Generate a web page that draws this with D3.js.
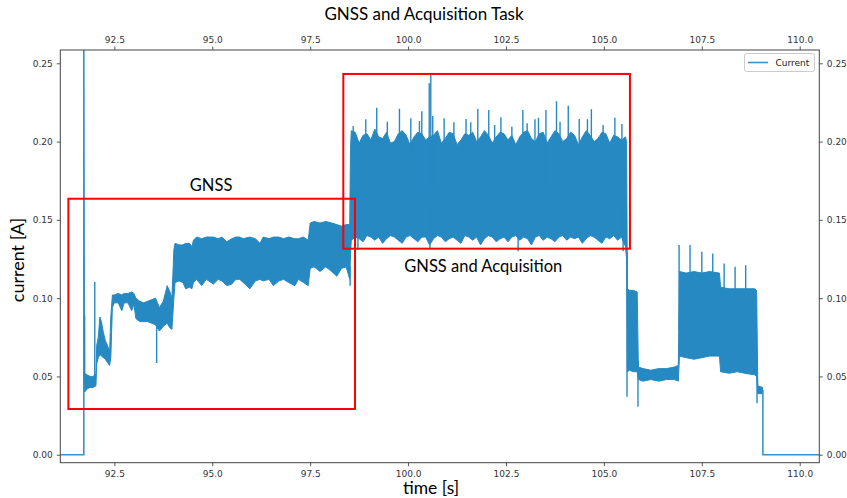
<!DOCTYPE html>
<html>
<head>
<meta charset="utf-8">
<script src="https://cdn.jsdelivr.net/npm/d3@7"></script>
<style>
  html, body { margin: 0; padding: 0; background: #fff; }
  svg { display: block; }
</style>
</head>
<body>
<svg id="chart" width="847" height="498"></svg>
<script>
// ---------------- DATA ----------------
const xTicks = [92.5, 95.0, 97.5, 100.0, 102.5, 105.0, 107.5, 110.0];
const yTicks = [0.00, 0.05, 0.10, 0.15, 0.20, 0.25];

// thin trace before the device powers up, and after it powers down
const leadTime    = [91.12, 91.72, 91.72, 91.735];
const leadCurrent = [0.000, 0.000, 0.270, 0.045];
const tailTime    = [109.05, 109.06, 109.06, 110.5];
const tailCurrent = [0.041, 0.041, 0.000, 0.000];

// start-up phase envelope (min / max of the dense signal)
const startTime = [91.74, 91.80, 91.88, 91.96, 92.03, 92.05, 92.09, 92.13, 92.17, 92.22, 92.27, 92.32, 92.38, 92.41, 92.45,
                   92.50, 92.60, 92.69, 92.75, 92.85, 92.94, 93.00, 93.05, 93.15, 93.25, 93.35, 93.45, 93.55, 93.65, 93.75, 93.85, 93.92, 93.97];
const startLow  = [0.040, 0.042, 0.043, 0.043, 0.044, 0.058, 0.062, 0.064, 0.063, 0.062, 0.061, 0.059, 0.057, 0.062, 0.094,
                   0.097, 0.097, 0.092, 0.097, 0.097, 0.092, 0.096, 0.087, 0.085, 0.085, 0.085, 0.084, 0.083, 0.079, 0.082, 0.084, 0.081, 0.080];
const startHigh = [0.052, 0.051, 0.050, 0.050, 0.052, 0.070, 0.075, 0.088, 0.085, 0.078, 0.073, 0.070, 0.066, 0.088, 0.102,
                   0.102, 0.103, 0.102, 0.103, 0.103, 0.104, 0.103, 0.100, 0.098, 0.097, 0.098, 0.099, 0.100, 0.094, 0.098, 0.108, 0.104, 0.100];

// GNSS phase envelope
const gnssTime = [94.02, 94.05, 94.15, 94.25, 94.32, 94.42, 94.48, 94.52, 94.60, 94.73, 94.85, 95.03, 95.15, 95.25, 95.37, 95.50,
                  95.60, 95.70, 95.79, 95.96, 96.10, 96.22, 96.30, 96.45, 96.56, 96.70, 96.82, 96.95, 97.11, 97.20, 97.33, 97.45,
                  97.50, 97.60, 97.75, 97.90, 98.05, 98.18, 98.30, 98.42, 98.51];
const gnssLow  = [0.100, 0.110, 0.111, 0.110, 0.106, 0.107, 0.106, 0.110, 0.112, 0.108, 0.112, 0.109, 0.112, 0.111, 0.108, 0.109,
                  0.112, 0.112, 0.110, 0.106, 0.111, 0.112, 0.111, 0.112, 0.108, 0.111, 0.112, 0.110, 0.108, 0.112, 0.110, 0.108,
                  0.119, 0.120, 0.117, 0.120, 0.117, 0.114, 0.119, 0.120, 0.112];
const gnssHigh = [0.131, 0.135, 0.134, 0.134, 0.135, 0.135, 0.133, 0.137, 0.139, 0.138, 0.139, 0.139, 0.138, 0.139, 0.136, 0.138,
                  0.139, 0.139, 0.138, 0.139, 0.138, 0.135, 0.139, 0.138, 0.139, 0.139, 0.138, 0.139, 0.138, 0.138, 0.139, 0.137,
                  0.148, 0.149, 0.148, 0.149, 0.148, 0.147, 0.146, 0.147, 0.147];

// GNSS + acquisition phase envelope
const acqTime = [98.53, 98.55, 98.65, 98.75, 98.85, 98.95, 99.05, 99.15, 99.25, 99.35, 99.45,
                 99.55, 99.65, 99.75, 99.85, 99.95, 100.05, 100.15, 100.25, 100.35, 100.45,
                 100.55, 100.65, 100.75, 100.85, 100.95, 101.05, 101.15, 101.25, 101.35, 101.45,
                 101.55, 101.65, 101.75, 101.85, 101.95, 102.05, 102.15, 102.25, 102.35, 102.45,
                 102.55, 102.65, 102.75, 102.85, 102.95, 103.05, 103.15, 103.25, 103.35, 103.45,
                 103.55, 103.65, 103.75, 103.85, 103.95, 104.05, 104.15, 104.25, 104.35, 104.45,
                 104.55, 104.65, 104.75, 104.85, 104.95, 105.05, 105.15, 105.25, 105.35, 105.45,
                 105.55, 105.58];
const acqLow  = [0.128, 0.137, 0.139, 0.138, 0.136, 0.140, 0.139, 0.137, 0.139, 0.135, 0.138,
                 0.140, 0.139, 0.137, 0.135, 0.139, 0.140, 0.138, 0.136, 0.139, 0.139,
                 0.134, 0.138, 0.140, 0.139, 0.136, 0.138, 0.139, 0.137, 0.135, 0.140,
                 0.139, 0.137, 0.139, 0.134, 0.138, 0.140, 0.139, 0.136, 0.138, 0.139,
                 0.136, 0.139, 0.140, 0.137, 0.139, 0.138, 0.134, 0.139, 0.140, 0.137,
                 0.139, 0.138, 0.136, 0.139, 0.140, 0.137, 0.139, 0.138, 0.139, 0.135,
                 0.138, 0.140, 0.139, 0.137, 0.135, 0.139, 0.138, 0.140, 0.137, 0.139,
                 0.133, 0.125];
const acqHigh = [0.195, 0.207, 0.206, 0.199, 0.204, 0.205, 0.201, 0.208, 0.203, 0.202, 0.206,
                 0.199, 0.200, 0.205, 0.207, 0.204, 0.198, 0.203, 0.206, 0.205, 0.201,
                 0.203, 0.204, 0.207, 0.199, 0.202, 0.206, 0.205, 0.198, 0.201, 0.205,
                 0.204, 0.206, 0.200, 0.203, 0.207, 0.204, 0.199, 0.203, 0.206, 0.205,
                 0.201, 0.204, 0.198, 0.203, 0.206, 0.207, 0.202, 0.200, 0.205, 0.206,
                 0.199, 0.203, 0.207, 0.205, 0.200, 0.202, 0.206, 0.204, 0.198, 0.203,
                 0.207, 0.204, 0.200, 0.202, 0.206, 0.205, 0.199, 0.204, 0.203, 0.201,
                 0.203, 0.200];

// after acquisition
const postTime = [105.60, 105.65, 105.75, 105.85, 105.88, 106.00, 106.20, 106.40, 106.60, 106.80, 106.90,
                  106.93, 107.10, 107.30, 107.50, 107.70, 107.95, 107.98, 108.20, 108.40, 108.60, 108.85, 108.90,
                  108.93, 109.05];
const postLow  = [0.053, 0.054, 0.053, 0.053, 0.048, 0.047, 0.048, 0.047, 0.048, 0.048, 0.047,
                  0.063, 0.062, 0.061, 0.062, 0.063, 0.063, 0.053, 0.052, 0.053, 0.052, 0.051, 0.050,
                  0.039, 0.039];
const postHigh = [0.106, 0.105, 0.105, 0.104, 0.056, 0.055, 0.054, 0.055, 0.055, 0.056, 0.057,
                  0.117, 0.116, 0.117, 0.116, 0.117, 0.116, 0.107, 0.106, 0.106, 0.106, 0.106, 0.105,
                  0.044, 0.043];

// isolated spikes (vertical excursions)
const spikeTime = [91.74, 92.00, 93.58, 98.52,
                   98.60, 98.92, 99.20, 99.47, 99.78, 100.07, 100.29, 100.35, 100.54, 100.58, 100.63, 100.92,
                   101.17, 101.48, 101.60, 101.78, 102.06, 102.21, 102.37, 102.65, 102.93, 103.04, 103.24, 103.33,
                   103.52, 103.79, 103.88, 104.09, 104.37, 104.58, 104.68, 104.98, 105.28, 105.46,
                   98.72, 100.56, 102.81, 105.49,
                   105.59, 105.87, 106.92, 107.20, 107.50, 107.78, 108.07, 108.35, 108.62, 108.91];
const spikeLow  = [0.045, 0.045, 0.0586, 0.108,
                   0.170, 0.170, 0.170, 0.170, 0.170, 0.170, 0.170, 0.170, 0.170, 0.170, 0.170, 0.170,
                   0.170, 0.170, 0.170, 0.170, 0.170, 0.170, 0.170, 0.170, 0.170, 0.170, 0.170, 0.170,
                   0.170, 0.170, 0.170, 0.170, 0.170, 0.170, 0.170, 0.170, 0.170, 0.170,
                   0.131, 0.131, 0.130, 0.130,
                   0.037, 0.0307, 0.080, 0.080, 0.080, 0.080, 0.080, 0.080, 0.080, 0.0328];
const spikeHigh = [0.089, 0.1105, 0.090, 0.120,
                   0.2099, 0.2142, 0.2216, 0.2127, 0.2210, 0.2149, 0.2131, 0.2193, 0.2372, 0.2436, 0.2163, 0.2149,
                   0.2123, 0.2144, 0.2123, 0.2208, 0.2202, 0.2106, 0.2155, 0.2095, 0.2202, 0.2117, 0.2142, 0.2153,
                   0.2202, 0.2257, 0.2127, 0.2229, 0.2144, 0.2142, 0.2206, 0.2106, 0.2153, 0.2112,
                   0.160, 0.160, 0.160, 0.160,
                   0.130, 0.060, 0.134, 0.134, 0.1297, 0.1286, 0.1222, 0.120, 0.121, 0.050];

// annotation boxes [t0, t1, v0, v1]
const gnssBox = [91.326, 98.645, 0.0292, 0.1635];
const acqBox  = [98.346, 105.665, 0.1316, 0.2432];

// ---------------- CHART ----------------
const plot = { left: 60.3, right: 819.3, top: 50, bottom: 462.7 };
const blue = "#2689c2";

const svg = d3.select("#chart");
const x = d3.scaleLinear().domain([91.12, 110.5]).range([plot.left, plot.right]);
const y = d3.scaleLinear().domain([-0.0051, 0.2585]).range([plot.bottom, plot.top]);

svg.append("defs").append("clipPath").attr("id", "clip")
  .append("rect").attr("x", plot.left).attr("y", plot.top)
  .attr("width", plot.right - plot.left).attr("height", plot.bottom - plot.top);

const data = svg.append("g").attr("clip-path", "url(#clip)");

function zip3(t, lo, hi) { return t.map((d, i) => ({ t: d, lo: lo[i], hi: hi[i] })); }
const band = [].concat(
  zip3(startTime, startLow, startHigh),
  zip3(gnssTime, gnssLow, gnssHigh),
  zip3(acqTime, acqLow, acqHigh),
  zip3(postTime, postLow, postHigh)
);

const area = d3.area().x(d => x(d.t)).y0(d => y(d.lo)).y1(d => y(d.hi));
data.append("path").datum(band).attr("d", area)
  .attr("fill", blue).attr("stroke", blue).attr("stroke-width", 1).attr("stroke-linejoin", "round");

const line = d3.line().x(d => x(d.t)).y(d => y(d.v));
[[leadTime, leadCurrent], [tailTime, tailCurrent]].forEach(([t, v]) => {
  data.append("path").datum(t.map((d, i) => ({ t: d, v: v[i] })))
    .attr("d", line).attr("fill", "none").attr("stroke", "#3593cc").attr("stroke-width", 1.6);
});

data.selectAll("line.spike").data(zip3(spikeTime, spikeLow, spikeHigh)).enter()
  .append("line").attr("class", "spike")
  .attr("x1", d => x(d.t)).attr("x2", d => x(d.t))
  .attr("y1", d => y(d.lo)).attr("y2", d => y(d.hi))
  .attr("stroke", blue).attr("stroke-width", 1.4);

// axes
const tickFont = "DejaVu Sans, sans-serif";
function styleAxis(g) {
  g.select(".domain").remove();
  g.selectAll(".tick line").attr("stroke", "#444").attr("stroke-width", 0.9);
  g.selectAll(".tick text").attr("fill", "#333").style("font-family", tickFont).style("font-size", "9px");
}
const fx = d3.format(".1f"), fy = d3.format(".2f");
svg.append("g").attr("transform", `translate(0,${plot.bottom})`)
  .call(d3.axisBottom(x).tickValues(xTicks).tickFormat(fx).tickSize(3.5).tickPadding(4)).call(styleAxis);
svg.append("g").attr("transform", `translate(0,${plot.top})`)
  .call(d3.axisTop(x).tickValues(xTicks).tickFormat(fx).tickSize(3.5).tickPadding(4)).call(styleAxis);
svg.append("g").attr("transform", `translate(${plot.left},0)`)
  .call(d3.axisLeft(y).tickValues(yTicks).tickFormat(fy).tickSize(3.5).tickPadding(4)).call(styleAxis);
svg.append("g").attr("transform", `translate(${plot.right},0)`)
  .call(d3.axisRight(y).tickValues(yTicks).tickFormat(fy).tickSize(3.5).tickPadding(4)).call(styleAxis);

svg.append("rect").attr("x", plot.left).attr("y", plot.top)
  .attr("width", plot.right - plot.left).attr("height", plot.bottom - plot.top)
  .attr("fill", "none").attr("stroke", "#444").attr("stroke-width", 1);

// red annotation boxes
[gnssBox, acqBox].forEach(b => {
  svg.append("rect")
    .attr("x", x(b[0])).attr("y", y(b[3]))
    .attr("width", x(b[1]) - x(b[0])).attr("height", y(b[2]) - y(b[3]))
    .attr("fill", "none").attr("stroke", "#ff0000").attr("stroke-width", 2);
});

// texts
const txtFont = "Lato, 'Open Sans', sans-serif";
svg.append("text").attr("x", 424).attr("y", 20).attr("text-anchor", "middle")
  .style("font-family", txtFont).style("font-size", "17px").attr("fill", "#000")
  .text("GNSS and Acquisition Task");
svg.append("text").attr("x", x(94.97)).attr("y", y(0.1686)).attr("text-anchor", "middle")
  .style("font-family", txtFont).style("font-size", "16.5px").attr("fill", "#000").text("GNSS");
svg.append("text").attr("x", x(101.92)).attr("y", y(0.1168)).attr("text-anchor", "middle")
  .style("font-family", txtFont).style("font-size", "16.5px").attr("fill", "#000").text("GNSS and Acquisition");
svg.append("text").attr("x", 431).attr("y", 494).attr("text-anchor", "middle")
  .style("font-family", txtFont).style("font-size", "17.5px").attr("fill", "#000").text("time [s]");
svg.append("text").attr("transform", "translate(24,260) rotate(-90)").attr("text-anchor", "middle")
  .style("font-family", txtFont).style("font-size", "18px").attr("fill", "#000").text("current [A]");

// legend
const lg = svg.append("g");
lg.append("rect").attr("x", 744.5).attr("y", 53.5).attr("width", 70).attr("height", 18).attr("rx", 2)
  .attr("fill", "#fff").attr("fill-opacity", 0.8).attr("stroke", "#cccccc").attr("stroke-width", 1);
lg.append("line").attr("x1", 748).attr("x2", 768).attr("y1", 62.5).attr("y2", 62.5)
  .attr("stroke", "#3593cc").attr("stroke-width", 1.6);
lg.append("text").attr("x", 775.5).attr("y", 66).style("font-family", tickFont).style("font-size", "9px")
  .attr("fill", "#222").text("Current");
</script>
</body>
</html>
